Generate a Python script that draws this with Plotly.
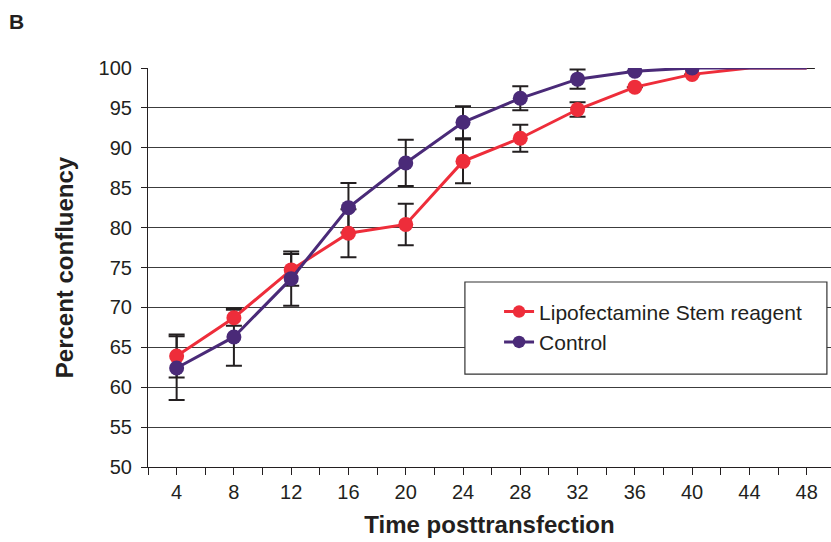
import plotly.graph_objects as go

hours = [4, 8, 12, 16, 20, 24, 28, 32, 36, 40, 44, 48]
tick_labels = ["4", "8", "12", "16", "20", "24", "28", "32", "36", "40", "44", "48"]

lipo = [63.9, 68.7, 74.7, 79.3, 80.4, 88.3, 91.2, 94.8, 97.6, 99.2, 100.0, 100.0]
lipo_err = [2.7, 1.0, 2.0, 3.0, 2.6, 2.75, 1.7, 0.9, None, None, None, None]

control = [62.4, 66.3, 73.6, 82.5, 88.1, 93.2, 96.2, 98.6, 99.6, 100.0, 100.0, 100.0]
control_err = [4.0, 3.6, 3.4, 3.1, 2.9, 2.0, 1.5, 1.2, None, None, None, None]

marker_shown = [True] * 10 + [False, False]

RED = "#EE2D3A"
PURPLE = "#4A2A78"
FONT = "Liberation Sans, Arial, Helvetica, sans-serif"
TXT = "#231F20"

sizes = [15 if m else 0 for m in marker_shown]

fig = go.Figure()
# error bars first so the markers sit on top of them
for vals, errs in [(lipo, lipo_err), (control, control_err)]:
    fig.add_trace(go.Scatter(
        x=hours, y=vals, mode="markers", showlegend=False, hoverinfo="skip",
        marker=dict(size=1, color="rgba(0,0,0,0)"),
        error_y=dict(type="data", array=errs, visible=True, color=TXT,
                     thickness=2, width=8),
    ))

fig.add_trace(go.Scatter(
    x=hours, y=lipo, mode="lines+markers", name="Lipofectamine Stem reagent",
    line=dict(color=RED, width=3),
    marker=dict(color=RED, size=sizes, opacity=1, line=dict(width=0)),
))
fig.add_trace(go.Scatter(
    x=hours, y=control, mode="lines+markers", name="Control",
    line=dict(color=PURPLE, width=3),
    marker=dict(color=PURPLE, size=sizes, opacity=1, line=dict(width=0)),
))

fig.update_layout(
    width=831, height=542,
    margin=dict(l=148, r=0, t=68, b=75),
    paper_bgcolor="white", plot_bgcolor="white",
    font=dict(family=FONT, color=TXT, size=20),
    showlegend=True,
    legend=dict(x=0.514, y=0.44, xanchor="left", yanchor="top",
                bgcolor="rgba(0,0,0,0)", borderwidth=0,
                font=dict(size=21, color=TXT)),
    shapes=[dict(type="rect", xref="paper", yref="paper",
                 x0=0.464, x1=0.994, y0=0.233, y1=0.4637,
                 line=dict(color="#333333", width=1.2), fillcolor="white",
                 layer="above")],
    annotations=[dict(text="<b>B</b>", xref="paper", yref="paper",
                      x=(7 - 148) / 683, y=(467 - 8) / 399,
                      xanchor="left", yanchor="top",
                      showarrow=False, font=dict(size=21, color=TXT))],
)

fig.update_xaxes(
    range=[2, 49.7], tickmode="array", tickvals=hours, ticktext=tick_labels,
    ticks="outside", ticklen=7, tickcolor=TXT, tickwidth=1.2,
    minor=dict(dtick=2, tick0=0, ticks="outside", ticklen=7, tickcolor=TXT, tickwidth=1.2),
    showline=True, linecolor=TXT, linewidth=1.2, showgrid=False, zeroline=False,
    tickfont=dict(size=20, color=TXT), automargin=False,
    title=dict(text="<b>Time posttransfection</b>", font=dict(size=24, color=TXT), standoff=14),
)
fig.update_yaxes(
    range=[50, 100], dtick=5, tick0=50,
    ticks="outside", ticklen=6, tickcolor=TXT, tickwidth=1.2,
    showline=True, linecolor=TXT, linewidth=1.2,
    showgrid=True, gridcolor="#3C3C3C", gridwidth=1, zeroline=False,
    tickfont=dict(size=20, color=TXT), automargin=False, ticklabelstandoff=5,
    title=dict(text="<b>Percent confluency</b>", font=dict(size=24, color=TXT), standoff=18),
)

fig.write_html("out.html", config={"displayModeBar": False},
               post_script="document.body.style.margin='0';")
